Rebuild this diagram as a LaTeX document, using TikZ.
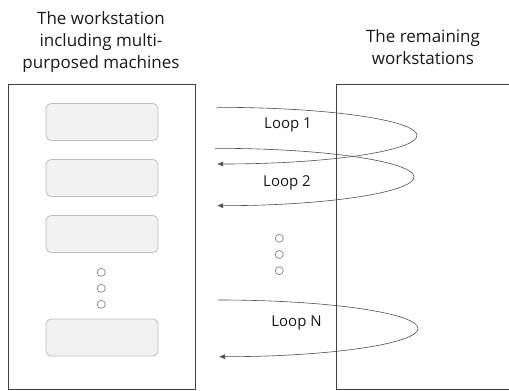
\documentclass[tikz,border=0pt]{standalone}
\usepackage{fontspec}
\setmainfont{Open Sans}
\usetikzlibrary{arrows.meta}
\definecolor{boxline}{HTML}{3F3F3F}
\definecolor{mfill}{HTML}{F2F2F2}
\definecolor{mline}{HTML}{BFBFBF}
\definecolor{dotline}{HTML}{909090}
\definecolor{loopline}{HTML}{505050}
\tikzset{
  station/.style={draw=boxline, line width=0.9pt, fill=white},
  machine/.style={draw=mline, fill=mfill, rounded corners=5pt, line width=0.8pt, minimum width=112pt, minimum height=37pt, inner sep=0pt},
  dot/.style={circle, draw=dotline, line width=0.8pt, minimum size=8pt, inner sep=0pt},
  title/.style={align=center, font=\fontsize{17}{22}\selectfont, text=black!90},
  looplabel/.style={font=\fontsize{15}{18}\selectfont, text=black!90},
  loopline/.style={draw=loopline, line width=0.6pt, -{Latex[length=6pt,width=5pt]}}
}
\begin{document}
\begin{tikzpicture}[x=1pt,y=-1pt]
\useasboundingbox (0,0) rectangle (509,391);
% stations
\node[station, minimum width=187pt, minimum height=305pt, inner sep=0pt] (ws) at (101.5,236.5) {};
\node[station, minimum width=180pt, minimum height=305.5pt, inner sep=0pt, anchor=north west] (rest) at (335.5,83.5) {};
% titles
\node[title] (t1) at (101,42) {The workstation\\including multi-\\purposed machines};
\node[title] (t2) at (423,47.5) {The remaining\\workstations};
% machines
\node[machine] (m1) at (102,122) {};
\node[machine] (m2) at (102,178) {};
\node[machine] (m3) at (102,234) {};
\node[machine] (m4) at (102,337.5) {};
% dots left
\node[dot] (d1) at (101.3,272.3) {};
\node[dot] (d2) at (101.3,288.3) {};
\node[dot] (d3) at (101.3,304.3) {};
% dots middle
\node[dot] (e1) at (279.3,238.3) {};
\node[dot] (e2) at (279.3,254.5) {};
\node[dot] (e3) at (279.3,270.7) {};
% loops
\coordinate (s1) at (217,107.3);
\coordinate (k1) at (417,135.5);
\coordinate (f1) at (217,164);
\coordinate (s2) at (215,148.3);
\coordinate (k2) at (414,177);
\coordinate (f2) at (217,205.7);
\coordinate (sN) at (218,300);
\coordinate (kN) at (418,328.5);
\coordinate (fN) at (219,356.7);
\draw[loopline] (s1) .. controls (330,107.3) and (417,120.5) .. (k1) .. controls (417,150.5) and (330,164) .. (f1);
\draw[loopline] (s2) .. controls (328,148.3) and (414,162) .. (k2) .. controls (414,192) and (328,205.7) .. (f2);
\draw[loopline] (sN) .. controls (331,300) and (418,313.5) .. (kN) .. controls (418,343.5) and (331,356.7) .. (fN);
\node[looplabel] (l1) at (288,125) {Loop 1};
\node[looplabel] (l2) at (287,183) {Loop 2};
\node[looplabel] (lN) at (296.5,322.5) {Loop N};
\end{tikzpicture}
\end{document}
